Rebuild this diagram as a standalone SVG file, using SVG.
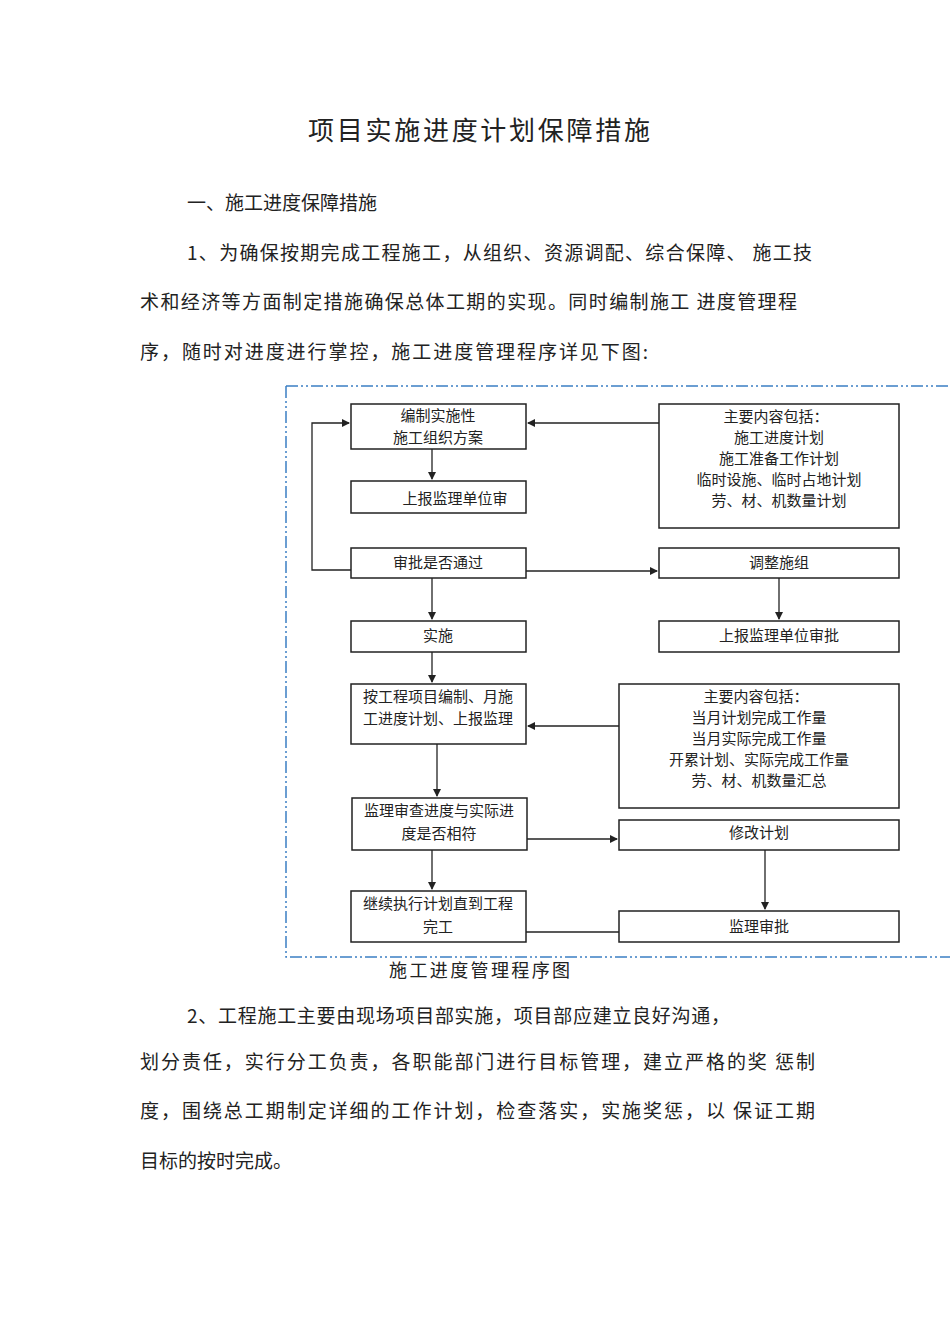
<svg xmlns="http://www.w3.org/2000/svg" width="950" height="1344" viewBox="0 0 950 1344">
<style>
.t{font-family:"Noto Sans CJK SC",sans-serif;fill:#222}
.b{font-size:19px}
.n{font-size:15px;text-anchor:middle}
rect{fill:#fff;stroke:#222;stroke-width:1.5}
.c line,.c polyline{stroke:#222;stroke-width:1.3;fill:none}
</style>
<defs><marker id="a" markerWidth="8" markerHeight="8" refX="7" refY="4" orient="auto" markerUnits="userSpaceOnUse"><path d="M0,0L8,4L0,8z" fill="#222"/></marker></defs>
<rect width="950" height="1344" style="fill:#fff;stroke:none"/>
<text class="t" x="308" y="140" font-size="26" textLength="342" lengthAdjust="spacing">项目实施进度计划保障措施</text>
<text class="t b" x="187" y="210">一、施工进度保障措施</text>
<text class="t b" x="187" y="260" textLength="625" lengthAdjust="spacing">1、为确保按期完成工程施工，从组织、资源调配、综合保障、  施工技</text>
<text class="t b" x="140" y="309" textLength="657" lengthAdjust="spacing">术和经济等方面制定措施确保总体工期的实现。同时编制施工  进度管理程</text>
<text class="t b" x="140" y="359" textLength="508" lengthAdjust="spacing">序，随时对进度进行掌控，施工进度管理程序详见下图:</text>
<path d="M286,386H950M286,386V957H950" fill="none" stroke="#3b7fc4" stroke-width="1.5" stroke-dasharray="12,3,2,3,2,3"/>
<g class="c">
<polyline points="351,570 312,570 312,423 349,423" marker-end="url(#a)"/>
<line x1="659" y1="423" x2="528" y2="423" marker-end="url(#a)"/>
<line x1="432" y1="449" x2="432" y2="479" marker-end="url(#a)"/>
<line x1="526" y1="571" x2="657" y2="571" marker-end="url(#a)"/>
<line x1="432" y1="578" x2="432" y2="619" marker-end="url(#a)"/>
<line x1="779" y1="578" x2="779" y2="619" marker-end="url(#a)"/>
<line x1="432" y1="652" x2="432" y2="682" marker-end="url(#a)"/>
<line x1="619" y1="726" x2="528" y2="726" marker-end="url(#a)"/>
<line x1="437" y1="744" x2="437" y2="796" marker-end="url(#a)"/>
<line x1="527" y1="839" x2="617" y2="839" marker-end="url(#a)"/>
<line x1="432" y1="850" x2="432" y2="889" marker-end="url(#a)"/>
<line x1="765" y1="850" x2="765" y2="909" marker-end="url(#a)"/>
<line x1="526" y1="932" x2="619" y2="932"/>
</g>
<g id="n1"><rect x="351" y="404" width="175" height="45"/><text class="t n" x="438" y="421">编制实施性</text><text class="t n" x="438" y="443">施工组织方案</text></g>
<g id="n2"><rect x="351" y="481" width="175" height="32"/><text class="t n" x="455" y="504" font-size="18">上报监理单位审</text></g>
<g id="n3"><rect x="659" y="404" width="240" height="124"/><text class="t n" x="776" y="422">主要内容包括：</text><text class="t n" x="779" y="443">施工进度计划</text><text class="t n" x="779" y="464">施工准备工作计划</text><text class="t n" x="779" y="485">临时设施、临时占地计划</text><text class="t n" x="779" y="506">劳、材、机数量计划</text></g>
<g id="n4"><rect x="351" y="548" width="175" height="30"/><text class="t n" x="438" y="568">审批是否通过</text></g>
<g id="n5"><rect x="659" y="548" width="240" height="30"/><text class="t n" x="779" y="568">调整施组</text></g>
<g id="n6"><rect x="351" y="621" width="175" height="31"/><text class="t n" x="438" y="641">实施</text></g>
<g id="n7"><rect x="659" y="621" width="240" height="31"/><text class="t n" x="779" y="641">上报监理单位审批</text></g>
<g id="n8"><rect x="351" y="684" width="175" height="60"/><text class="t n" x="438" y="702">按工程项目编制、月施</text><text class="t n" x="438" y="724">工进度计划、上报监理</text></g>
<g id="n9"><rect x="619" y="684" width="280" height="124"/><text class="t n" x="756" y="702">主要内容包括：</text><text class="t n" x="759" y="723">当月计划完成工作量</text><text class="t n" x="759" y="744">当月实际完成工作量</text><text class="t n" x="759" y="765">开累计划、实际完成工作量</text><text class="t n" x="759" y="786">劳、材、机数量汇总</text></g>
<g id="n10"><rect x="352" y="798" width="175" height="52"/><text class="t n" x="439" y="816">监理审查进度与实际进</text><text class="t n" x="439" y="839">度是否相符</text></g>
<g id="n11"><rect x="619" y="820" width="280" height="30"/><text class="t n" x="759" y="838">修改计划</text></g>
<g id="n12"><rect x="351" y="891" width="175" height="51"/><text class="t n" x="438" y="909">继续执行计划直到工程</text><text class="t n" x="438" y="932">完工</text></g>
<g id="n13"><rect x="619" y="911" width="280" height="31"/><text class="t n" x="759" y="932">监理审批</text></g>
<text class="t" x="389" y="977" font-size="18" textLength="181" lengthAdjust="spacing">施工进度管理程序图</text>
<text class="t b" x="187" y="1023" textLength="543" lengthAdjust="spacing">2、工程施工主要由现场项目部实施，项目部应建立良好沟通，</text>
<text class="t b" x="140" y="1069" textLength="675" lengthAdjust="spacing">划分责任，实行分工负责，各职能部门进行目标管理，建立严格的奖  惩制</text>
<text class="t b" x="140" y="1118" textLength="675" lengthAdjust="spacing">度，围绕总工期制定详细的工作计划，检查落实，实施奖惩，以  保证工期</text>
<text class="t b" x="140" y="1168">目标的按时完成。</text>
</svg>
